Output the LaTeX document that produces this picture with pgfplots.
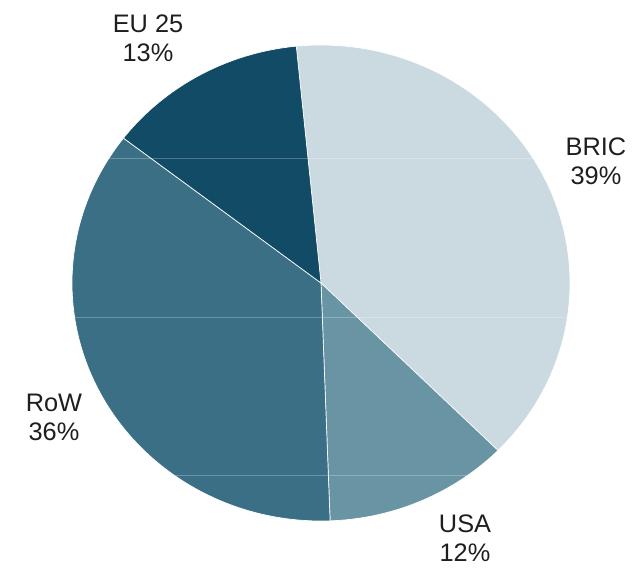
\documentclass[border=0pt]{standalone}
\usepackage{pgfplots}
\usepackage{pgfplotstable}
\usepackage{fontspec}
\setmainfont{Liberation Sans}
\pgfplotsset{compat=1.18}
\definecolor{cBRIC}{HTML}{CBD9E1}
\definecolor{cUSA}{HTML}{6894A3}
\definecolor{cRoW}{HTML}{3A6F86}
\definecolor{cEU}{HTML}{124B66}
\definecolor{txt}{HTML}{1E1E1E}
\pgfplotstableread{
label value
BRIC 39
USA 12
RoW 36
EU25 13
}\piedata
\pgfplotstablegetelem{0}{value}\of\piedata \let\vA\pgfplotsretval
\pgfplotstablegetelem{1}{value}\of\piedata \let\vB\pgfplotsretval
\pgfplotstablegetelem{2}{value}\of\piedata \let\vC\pgfplotsretval
\pgfplotstablegetelem{3}{value}\of\piedata \let\vD\pgfplotsretval
\pgfmathsetmacro\aO{95.7}
\pgfmathsetmacro\aA{\aO-3.6*\vA}
\pgfmathsetmacro\aB{\aA-3.6*\vB}
\pgfmathsetmacro\aC{\aB-3.6*\vC}
\pgfmathsetmacro\aD{\aC-3.6*\vD}
\begin{document}
\begin{tikzpicture}
\path[use as bounding box] (0,0) rectangle (480.75pt,-426pt);
\begin{axis}[
  hide axis, scale only axis,
  width=373.5pt, height=357pt,
  xmin=-1, xmax=1, ymin=-1, ymax=1,
  at={(240.75pt,-212.25pt)}, anchor=center,
  clip=false,
]
\addplot[fill=cBRIC, draw=white, line width=0.5pt, domain=\aA:\aO, samples=90, variable=\t] ({cos(t)},{sin(t)}) -- (axis cs:0,0) -- cycle;
\addplot[fill=cUSA, draw=white, line width=0.5pt, domain=\aB:\aA, samples=40, variable=\t] ({cos(t)},{sin(t)}) -- (axis cs:0,0) -- cycle;
\addplot[fill=cRoW, draw=white, line width=0.5pt, domain=\aC:\aB, samples=90, variable=\t] ({cos(t)},{sin(t)}) -- (axis cs:0,0) -- cycle;
\addplot[fill=cEU, draw=white, line width=0.5pt, domain=\aD:\aC, samples=40, variable=\t] ({cos(t)},{sin(t)}) -- (axis cs:0,0) -- cycle;
\addplot[white, opacity=0.25, line width=0.6pt] coordinates {(-0.851,0.525) (0.851,0.525)};
\addplot[white, opacity=0.25, line width=0.6pt] coordinates {(-0.990,-0.143) (0.990,-0.143)};
\addplot[white, opacity=0.25, line width=0.6pt] coordinates {(-0.591,-0.807) (0.591,-0.807)};
\end{axis}
\begin{scope}[every node/.style={align=center, text=txt, inner sep=0pt, font=\fontsize{19}{21.75}\selectfont}]
\node at (111pt,-28.5pt) {EU 25\\13\%};
\node at (447pt,-120.75pt) {BRIC\\39\%};
\node at (40.5pt,-312.75pt) {RoW\\36\%};
\node at (348.75pt,-404pt) {USA\\12\%};
\end{scope}
\end{tikzpicture}
\end{document}
